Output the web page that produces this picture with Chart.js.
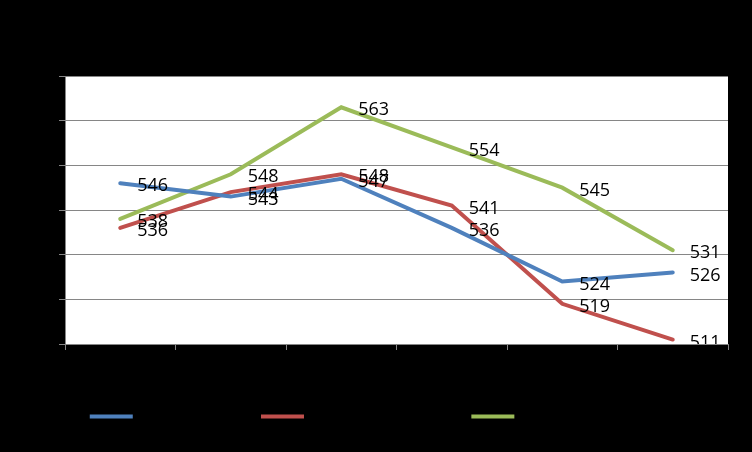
<!DOCTYPE html>
<html>
<head>
<meta charset="utf-8">
<script src="https://cdn.jsdelivr.net/npm/chart.js@4"></script>
<style>
  html, body { margin: 0; padding: 0; background: #000; }
  #wrap { width: 752px; height: 452px; }
</style>
</head>
<body>
<div id="wrap"><canvas id="chart" width="752" height="452"></canvas></div>
<script>
// PISA years
const years = ['2000', '2003', '2006', '2009', '2012', '2015'];
const reading = [546, 543, 547, 536, 524, 526];
const maths = [536, 544, 548, 541, 519, 511];
const science = [538, 548, 563, 554, 545, 531];
const seriesNames = ['Reading literacy', 'Mathematical literacy', 'Scientific literacy'];
const yTicks = [510, 520, 530, 540, 550, 560, 570];

const colors = ['#4F81BD', '#C0504D', '#9BBB59'];
const gridGray = '#868686';

// black page, white plot area
const bgPlugin = {
  id: 'bg',
  beforeDraw(chart) {
    const { ctx, chartArea: a } = chart;
    ctx.save();
    ctx.fillStyle = '#000';
    ctx.fillRect(0, 0, chart.width, chart.height);
    ctx.fillStyle = '#fff';
    ctx.fillRect(a.left, a.top, a.right - a.left, a.bottom - a.top);
    ctx.restore();
  }
};

// value labels to the right of each point
const valueLabels = {
  id: 'valueLabels',
  afterDatasetsDraw(chart) {
    const { ctx, chartArea: a } = chart;
    ctx.save();
    ctx.beginPath();
    ctx.rect(a.left, a.top, a.right - a.left, a.bottom - a.top);
    ctx.clip();
    ctx.fillStyle = '#000';
    ctx.font = '18px "Open Sans"';
    ctx.textAlign = 'left';
    ctx.textBaseline = 'middle';
    chart.data.datasets.forEach((ds, i) => {
      chart.getDatasetMeta(i).data.forEach((pt, j) => {
        ctx.fillText(String(ds.data[j]), pt.x + 17, pt.y + 3);
      });
    });
    ctx.restore();
  }
};

const mkSet = (label, data, color) => ({
  label, data,
  borderColor: color, backgroundColor: color,
  borderWidth: 4, pointRadius: 0, tension: 0, borderCapStyle: 'round'
});

new Chart(document.getElementById('chart'), {
  type: 'line',
  data: {
    labels: years,
    datasets: [
      mkSet(seriesNames[0], reading, colors[0]),
      mkSet(seriesNames[1], maths, colors[1]),
      mkSet(seriesNames[2], science, colors[2])
    ]
  },
  options: {
    responsive: false,
    animation: false,
    layout: { padding: { top: 76, right: 24, bottom: 18, left: 0 } },
    plugins: {
      tooltip: { enabled: false },
      legend: {
        position: 'bottom',
        labels: {
          color: '#000',
          boxWidth: 43,
          boxHeight: 4,
          padding: 10,
          font: { family: 'Open Sans', size: 15 },
          // flat line swatches, no outline
          generateLabels(chart) {
            return Chart.defaults.plugins.legend.labels.generateLabels(chart)
              .map(l => ({ ...l, lineWidth: 0 }));
          }
        }
      }
    },
    scales: {
      x: {
        offset: true,
        grid: { offset: true, drawOnChartArea: false, color: gridGray, tickLength: 6 },
        border: { color: gridGray },
        ticks: { color: '#000', font: { size: 14 } },
        afterFit(s) { s.height = 55; }
      },
      y: {
        min: 510, max: 570,
        afterBuildTicks(s) { s.ticks = yTicks.map(v => ({ value: v })); },
        grid: { color: gridGray, tickLength: 6 },
        border: { color: gridGray },
        ticks: { color: '#000', font: { size: 14 } },
        afterFit(s) { s.width = 65; }
      }
    }
  },
  plugins: [bgPlugin, valueLabels]
});
</script>
</body>
</html>
